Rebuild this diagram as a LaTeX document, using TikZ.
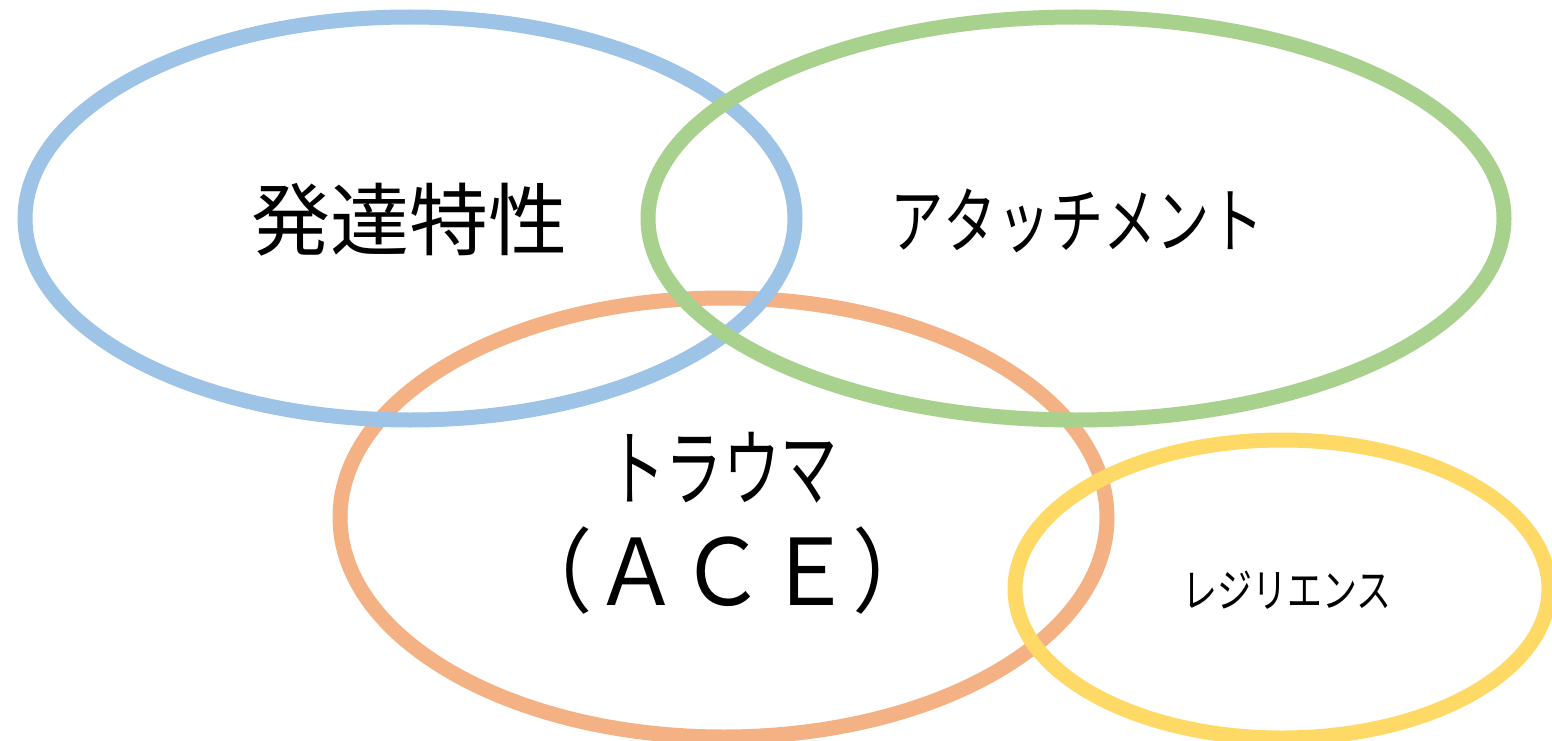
\documentclass[tikz,border=0pt]{standalone}
\usepackage{fontspec}
\setmainfont{Noto Sans CJK JP}
\definecolor{cblue}{HTML}{9DC3E6}
\definecolor{cgreen}{HTML}{A9D18E}
\definecolor{corange}{HTML}{F4B183}
\definecolor{cyellow}{HTML}{FFD966}
\tikzset{ring/.style={line width=15pt},
  lbl/.style={inner sep=0pt, text=black, align=center}}
\begin{document}
\begin{tikzpicture}[x=1pt,y=-1pt]
\useasboundingbox (0,0) rectangle (1552,741);
\clip (0,0) rectangle (1552,741);
\fill[white] (0,0) rectangle (1552,741);
\draw[ring, corange] (723.5,517.5) ellipse [x radius=383.5pt, y radius=219.5pt];
\draw[ring, cblue] (410,218.5) ellipse [x radius=385pt, y radius=201.5pt];
\draw[ring, cgreen] (1076,218.5) ellipse [x radius=428pt, y radius=201.5pt];
\draw[ring, cyellow] (1282,589) ellipse [x radius=267pt, y radius=149pt];
\node[lbl] (hattatsu) at (409,220) {\fontsize{79pt}{90pt}\selectfont 発達特性};
\node[lbl] (attach) at (1077,221) {\scalebox{0.74}[1]{\fontsize{72pt}{80pt}\selectfont アタッチメント}};
\node[lbl] (trauma) at (723,468) {\scalebox{0.68}[1]{\fontsize{84pt}{90pt}\selectfont トラウマ}};
\node[lbl] (ace) at (723,571) {\scalebox{0.94}[1]{\fontsize{92pt}{96pt}\selectfont （ＡＣＥ）}};
\node[lbl] (resil) at (1287,590) {\scalebox{0.76}[1]{\fontsize{46pt}{50pt}\selectfont レジリエンス}};
\end{tikzpicture}
\end{document}
